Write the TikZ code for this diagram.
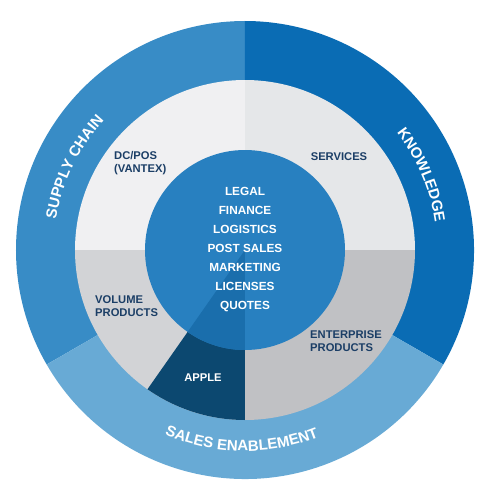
\documentclass[tikz,border=0pt]{standalone}
\usepackage{fontspec}
\setmainfont{Liberation Sans}
\usetikzlibrary{decorations.text}
\definecolor{supply}{RGB}{56,140,198}
\definecolor{knowledge}{RGB}{10,108,180}
\definecolor{sales}{RGB}{104,170,213}
\definecolor{core}{RGB}{40,128,192}
\definecolor{coredark}{RGB}{26,110,172}
\definecolor{applefill}{RGB}{12,72,112}
\definecolor{greyA}{RGB}{240,240,242}
\definecolor{greyB}{RGB}{229,231,233}
\definecolor{greyC}{RGB}{210,211,214}
\definecolor{greyD}{RGB}{192,193,196}
\definecolor{labeltext}{RGB}{27,62,102}
\newcommand\ringfont{\fontsize{15}{15}\selectfont\bfseries}

\begin{document}
\begin{tikzpicture}[x=1pt,y=1pt,every node/.style={font=\bfseries\fontsize{11.2}{12.8}\selectfont,align=left,text=labeltext,inner sep=0pt},
  ringtext/.style={decorate,decoration={text along path,text align=center,text color=white,text={|\ringfont|#1}}}]
\useasboundingbox (-245,-246) rectangle (246,250);
% outer ring
\fill[supply] (0,0) -- (90:229) arc[start angle=90,end angle=210,radius=229pt] -- cycle;
\fill[knowledge] (0,0) -- (-30:229) arc[start angle=-30,end angle=90,radius=229pt] -- cycle;
\fill[sales] (0,0) -- (210:229) arc[start angle=210,end angle=330,radius=229pt] -- cycle;
% middle ring
\fill[greyB] (0,0) -- (0:170) arc[start angle=0,end angle=90,radius=170pt] -- cycle;
\fill[greyA] (0,0) -- (90:170) arc[start angle=90,end angle=180,radius=170pt] -- cycle;
\fill[greyC] (0,0) -- (180:170) arc[start angle=180,end angle=270,radius=170pt] -- cycle;
\fill[greyD] (0,0) -- (270:170) arc[start angle=270,end angle=360,radius=170pt] -- cycle;
\fill[applefill] (0,0) -- (235:170) arc[start angle=235,end angle=270,radius=170pt] -- cycle;
% core
\fill[core] (0,0) circle[radius=100pt];
\fill[coredark] (0,0) -- (235:100) arc[start angle=235,end angle=270,radius=100pt] -- cycle;

\node[text=white,align=center,font=\bfseries\fontsize{11.8}{19}\selectfont] (functions) at (0,0)
  {LEGAL\\FINANCE\\LOGISTICS\\POST SALES\\MARKETING\\LICENSES\\QUOTES};
\node[anchor=west] (dcpos) at (-131,87) {DC/POS\\(VANTEX)};
\node (services) at (94,93) {SERVICES};
\node[anchor=west] (volume) at (-150,-56) {VOLUME\\PRODUCTS};
\node[anchor=west] (enterprise) at (65,-91) {ENTERPRISE\\PRODUCTS};
\node[text=white] (apple) at (-42,-128) {APPLE};

\path[ringtext=SUPPLY CHAIN] (184:191.5) arc[start angle=184,end angle=124,radius=191.5pt];
\path[ringtext=KNOWLEDGE] (53:192) arc[start angle=53,end angle=-7,radius=192pt];
\path[ringtext=SALES ENABLEMENT] (-121:201) arc[start angle=-121,end angle=-61,radius=201pt];
\end{tikzpicture}
\end{document}
